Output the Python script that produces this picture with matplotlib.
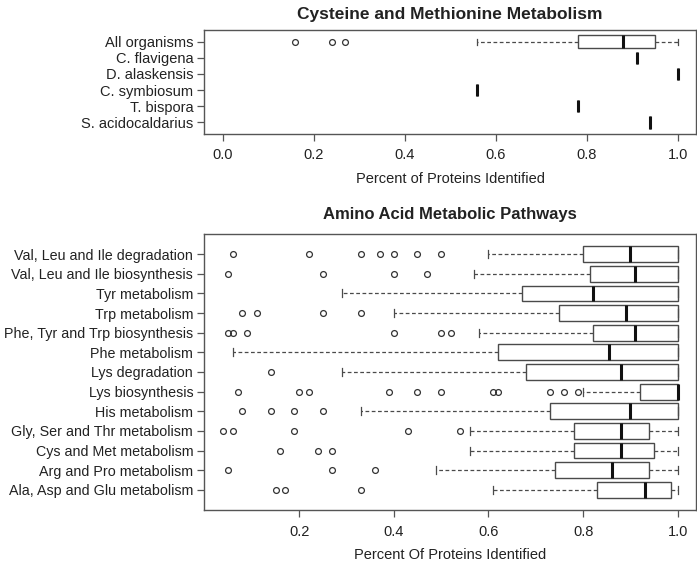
import matplotlib
matplotlib.use("Agg")
import matplotlib.pyplot as plt

plt.rcParams['font.family'] = ['Liberation Sans', 'DejaVu Sans']

# ---- Top panel data ----
orgs = ['All organisms', 'C. flavigena', 'D. alaskensis', 'C. symbiosum', 'T. bispora', 'S. acidocaldarius']
o_whislo = [0.56, 0.91, 1.00, 0.56, 0.78, 0.94]
o_q1 = [0.78, 0.91, 1.00, 0.56, 0.78, 0.94]
o_med = [0.88, 0.91, 1.00, 0.56, 0.78, 0.94]
o_q3 = [0.95, 0.91, 1.00, 0.56, 0.78, 0.94]
o_whishi = [1.00, 0.91, 1.00, 0.56, 0.78, 0.94]
o_fliers = [[0.16, 0.24, 0.27], [], [], [], [], []]
top_ticks = [0.0, 0.2, 0.4, 0.6, 0.8, 1.0]

# ---- Bottom panel data ----
pathways = ['Val, Leu and Ile degradation', 'Val, Leu and Ile biosynthesis', 'Tyr metabolism',
            'Trp metabolism', 'Phe, Tyr and Trp biosynthesis', 'Phe metabolism', 'Lys degradation',
            'Lys biosynthesis', 'His metabolism', 'Gly, Ser and Thr metabolism',
            'Cys and Met metabolism', 'Arg and Pro metabolism', 'Ala, Asp and Glu metabolism']
p_whislo = [0.60, 0.57, 0.29, 0.40, 0.58, 0.06, 0.29, 0.80, 0.33, 0.56, 0.56, 0.49, 0.61]
p_q1 = [0.80, 0.815, 0.67, 0.75, 0.82, 0.62, 0.68, 0.92, 0.73, 0.78, 0.78, 0.74, 0.83]
p_med = [0.90, 0.91, 0.82, 0.89, 0.91, 0.855, 0.88, 1.00, 0.90, 0.88, 0.88, 0.86, 0.93]
p_q3 = [1.00, 1.00, 1.00, 1.00, 1.00, 1.00, 1.00, 1.00, 1.00, 0.94, 0.95, 0.94, 0.985]
p_whishi = [1.00] * 13
p_fliers = [
    [0.06, 0.22, 0.33, 0.37, 0.40, 0.45, 0.50],
    [0.05, 0.25, 0.40, 0.47],
    [],
    [0.08, 0.11, 0.25, 0.33],
    [0.05, 0.06, 0.09, 0.40, 0.50, 0.52],
    [],
    [0.14],
    [0.07, 0.20, 0.22, 0.39, 0.45, 0.50, 0.61, 0.62, 0.73, 0.76, 0.79],
    [0.08, 0.14, 0.19, 0.25],
    [0.04, 0.06, 0.19, 0.43, 0.54],
    [0.16, 0.24, 0.27],
    [0.05, 0.27, 0.36],
    [0.15, 0.17, 0.33],
]
bottom_ticks = [0.2, 0.4, 0.6, 0.8, 1.0]

TXT = '#222222'
EDGE = '#4a4a4a'
SPINE = '#555555'


def make_stats(labels, wl, q1, med, q3, wh, fl):
    return [dict(label=l, whislo=a, q1=b, med=c, q3=d, whishi=e, fliers=f)
            for l, a, b, c, d, e, f in zip(labels, wl, q1, med, q3, wh, fl)]


def draw(ax, stats, fsize, xpad):
    n = len(stats)
    ax.bxp(stats, positions=range(1, n + 1), orientation='horizontal', widths=0.8,
           capwidths=0.4, patch_artist=True,
           boxprops=dict(facecolor='white', edgecolor=EDGE, linewidth=1.0),
           medianprops=dict(color='#111111', linewidth=2.2, solid_capstyle='butt'),
           whiskerprops=dict(color=EDGE, linewidth=0.9, linestyle=(0, (3, 2))),
           capprops=dict(color=EDGE, linewidth=0.9),
           flierprops=dict(marker='o', markersize=4.2, markerfacecolor='none',
                           markeredgecolor='#333333', markeredgewidth=0.9, linestyle='none'))
    ax.set_ylim(n + 0.5 + 0.04 * n, 0.5 - 0.04 * n)
    for s in ax.spines.values():
        s.set_color(SPINE)
        s.set_linewidth(1.0)
    ax.tick_params(axis='both', direction='out', length=5, width=0.9, color=SPINE,
                   labelcolor=TXT, labelsize=fsize)
    ax.tick_params(axis='x', pad=xpad)
    ax.tick_params(axis='y', pad=3)


fig = plt.figure(figsize=(6.97, 5.61), dpi=100)

# Top panel
ax1 = fig.add_axes([204.3 / 697, 1 - 134 / 561, (696 - 204.3) / 697, (134 - 30) / 561])
draw(ax1, make_stats(orgs, o_whislo, o_q1, o_med, o_q3, o_whishi, o_fliers), 10.5, 5)
ax1.set_xlim(-0.04, 1.04)
ax1.set_xticks(top_ticks)
ax1.set_xticklabels([f'{t:.1f}' for t in top_ticks])
ax1.set_yticks(range(1, len(orgs) + 1))
ax1.set_yticklabels(orgs)
ax1.set_xlabel('Percent of Proteins Identified', fontsize=10.5, color=TXT, labelpad=7)
ax1.set_title('Cysteine and Methionine Metabolism', fontsize=12.5, fontweight='bold',
              color=TXT, pad=8)

# Bottom panel
ax2 = fig.add_axes([204.3 / 697, 1 - 510 / 561, (696 - 204.3) / 697, (510 - 234) / 561])
draw(ax2, make_stats(pathways, p_whislo, p_q1, p_med, p_q3, p_whishi, p_fliers), 10.3, 6)
ax2.set_xlim(-0.0005, 1.0385)
ax2.set_xticks(bottom_ticks)
ax2.set_xticklabels([f'{t:.1f}' for t in bottom_ticks], fontsize=10.5)
ax2.set_yticks(range(1, len(pathways) + 1))
ax2.set_yticklabels(pathways)
ax2.set_xlabel('Percent Of Proteins Identified', fontsize=10.5, color=TXT, labelpad=6)
ax2.set_title('Amino Acid Metabolic Pathways', fontsize=12, fontweight='bold',
              color=TXT, pad=11)

fig.savefig('out.png', dpi=100)
